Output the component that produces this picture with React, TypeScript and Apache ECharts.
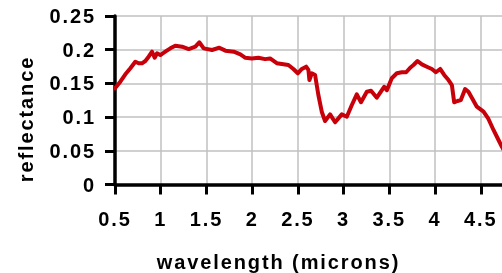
import React, { useEffect, useRef } from "react";
import * as echarts from "echarts";

const wavelengths = [
  0.5, 0.558, 0.613, 0.668, 0.722, 0.759, 0.795, 0.832, 0.868, 0.905, 0.934, 0.96, 0.996,
  1.05, 1.105, 1.16, 1.233, 1.306, 1.379, 1.422, 1.47, 1.561, 1.641, 1.707, 1.799, 1.871,
  1.926, 1.996, 2.068, 2.141, 2.196, 2.269, 2.324, 2.396, 2.451, 2.499, 2.543, 2.59, 2.615,
  2.626, 2.652, 2.688, 2.724, 2.761, 2.797, 2.852, 2.907, 2.98, 3.035, 3.09, 3.144, 3.19,
  3.254, 3.3, 3.363, 3.443, 3.473, 3.527, 3.582, 3.637, 3.684, 3.728, 3.764, 3.808, 3.856,
  3.91, 3.965, 4.009, 4.056, 4.1, 4.147, 4.184, 4.209, 4.245, 4.282, 4.329, 4.365, 4.402,
  4.457, 4.53, 4.584, 4.639, 4.694, 4.731, 4.76, 4.8,
];

const reflectance = [
  0.1427, 0.1525, 0.1635, 0.1724, 0.1822, 0.1798, 0.1798, 0.1832, 0.1896, 0.197, 0.188, 0.1947, 0.192,
  0.197, 0.202, 0.206, 0.2045, 0.201, 0.2045, 0.211, 0.202, 0.1996, 0.203, 0.1986, 0.197, 0.193,
  0.188, 0.187, 0.188, 0.186, 0.187, 0.18, 0.1788, 0.1773, 0.1714, 0.165, 0.1714, 0.1748, 0.17,
  0.155, 0.165, 0.1625, 0.1328, 0.108, 0.0942, 0.104, 0.0923, 0.104, 0.1006, 0.118, 0.1338, 0.122,
  0.1377, 0.139, 0.1288, 0.145, 0.14, 0.1576, 0.165, 0.1665, 0.1665, 0.1733, 0.1773, 0.1832, 0.1783,
  0.1748, 0.1714, 0.1665, 0.1714, 0.1625, 0.155, 0.1476, 0.122, 0.1239, 0.1254, 0.1417, 0.1377, 0.1288,
  0.1154, 0.108, 0.0972, 0.0809, 0.066, 0.056, 0.049, 0.04,
];

const xTitle = "wavelength (microns)";
const yTitle = "reflectance";

const FONT = "Liberation Sans";

export default function App() {
  const ref = useRef<HTMLDivElement>(null);

  useEffect(() => {
    const chart = echarts.init(ref.current!, undefined, { renderer: "svg" });
    const labelStyle = {
      fontFamily: FONT,
      fontWeight: "bold" as const,
      fontSize: 20,
      color: "#000",
    };
    chart.setOption({
      animation: false,
      grid: {
        left: 115,
        top: 16,
        width: 411.5,
        height: 168.5,
        containLabel: false,
        outerBoundsMode: "none",
      },
      xAxis: {
        type: "value",
        min: 0.5,
        max: 5,
        interval: 0.5,
        axisLine: { show: true, lineStyle: { color: "#000", width: 3.5 } },
        axisTick: { show: true, length: 10, lineStyle: { color: "#000", width: 3 } },
        axisLabel: { ...labelStyle, margin: 24, interval: 0, showMaxLabel: false },
        splitLine: { show: true, lineStyle: { color: "#c0c0c0", width: 1.5 } },
      },
      yAxis: {
        type: "value",
        min: 0,
        max: 0.25,
        interval: 0.05,
        axisLine: { show: true, lineStyle: { color: "#000", width: 3.5 } },
        axisTick: { show: true, length: 10, lineStyle: { color: "#000", width: 3 } },
        axisLabel: { ...labelStyle, margin: 19 },
        splitLine: { show: true, lineStyle: { color: "#c0c0c0", width: 1.5 } },
      },
      graphic: [
        {
          type: "text",
          x: 278.5,
          y: 262,
          style: {
            text: xTitle,
            fontFamily: FONT,
            fontWeight: "bold",
            fontSize: 20,
            fill: "#000",
            align: "center",
            verticalAlign: "middle",
            textAlign: "center",
            textVerticalAlign: "middle",
          },
        },
        {
          type: "text",
          x: 26,
          y: 119,
          rotation: Math.PI / 2,
          style: {
            text: yTitle,
            fontFamily: FONT,
            fontWeight: "bold",
            fontSize: 20,
            fill: "#000",
            align: "center",
            verticalAlign: "middle",
            textAlign: "center",
            textVerticalAlign: "middle",
          },
        },
      ],
      series: [
        {
          type: "line",
          data: wavelengths.map((w, i) => [w, reflectance[i]]),
          showSymbol: false,
          symbol: "none",
          lineStyle: { color: "#c8000a", width: 4, join: "round", cap: "round" },
          z: 3,
        },
      ],
    });
    return () => chart.dispose();
  }, []);

  return (
    <>
      <style>{`body{margin:0} .chartbox text{letter-spacing:1.9px}`}</style>
      <div
        ref={ref}
        className="chartbox"
        style={{ position: "fixed", left: 0, top: 0, width: 502, height: 273, overflow: "hidden" }}
      />
    </>
  );
}
